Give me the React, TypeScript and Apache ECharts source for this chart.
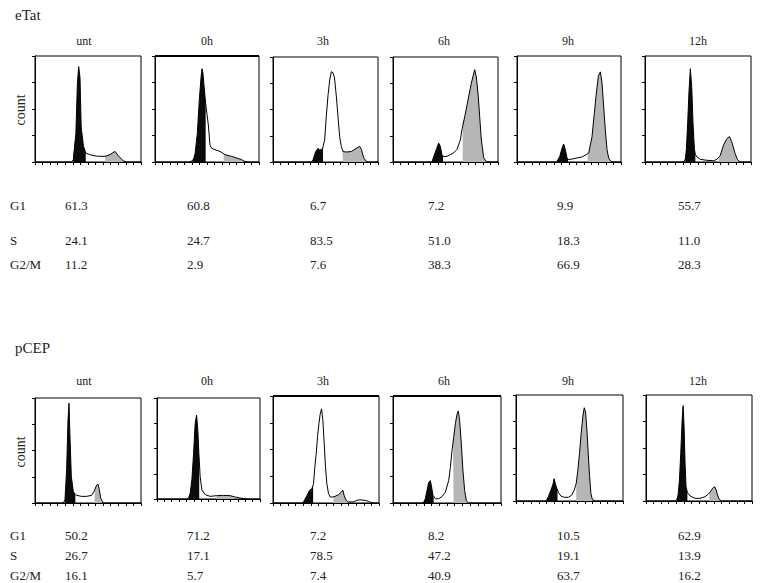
import React, { useEffect, useRef } from "react";
import * as echarts from "echarts";

// ---------- DATA ----------
const timepoints = ["unt", "0h", "3h", "6h", "9h", "12h"];
const phaseLabels = ["G1", "S", "G2/M"];

const eTatG1 = [61.3, 60.8, 6.7, 7.2, 9.9, 55.7];
const eTatS = [24.1, 24.7, 83.5, 51.0, 18.3, 11.0];
const eTatG2M = [11.2, 2.9, 7.6, 38.3, 66.9, 28.3];

const pCEPG1 = [50.2, 71.2, 7.2, 8.2, 10.5, 62.9];
const pCEPS = [26.7, 17.1, 78.5, 47.2, 19.1, 13.9];
const pCEPG2M = [16.1, 5.7, 7.4, 40.9, 63.7, 16.2];

// DNA-content histograms: [channel, relative count]
const eTatUnt = [[0,0],[48,0],[50.6,2],[54,27],[56,74],[57.7,90],[59.4,80],[61,33],[64,15],[67,8.5],[72,7],[81,5.5],[92.5,5.3],[99,7],[105.7,10],[110,6],[116.7,1],[121,0],[140,0]];
const eTat0h = [[0,0],[46,0],[50,1],[52,3],[54,8],[57,27],[59.7,59],[62,80],[63.3,88],[64.5,84],[66,72],[68.2,55],[70,45],[71.8,35],[74,16],[76.3,13],[80.8,11.5],[87.5,10],[94.2,7],[103.2,5.3],[110,3.8],[116.7,2.2],[121,0.5],[126,0],[140,0]];
const eTat3h = [[0,0],[51,0],[53.3,2],[57,10],[60,13],[62,11.5],[65.8,12],[68.9,21],[71,43],[73.3,63],[75.6,78],[77.8,86],[80,85],[82,80],[84.4,63],[86.7,43],[88.9,24],[91,15],[93.3,10],[97.8,9.5],[104.4,10],[111,13],[115.6,15],[117.8,12],[120.9,4],[124.4,0.6],[126.7,0],[140,0]];
const eTat6h = [[0,0],[52,0],[54.2,5],[57.8,12],[60.9,18],[63.1,15],[65.3,7],[67.6,5],[72,5.4],[76.4,7],[80.9,8.6],[85.3,12],[89.8,21],[92,31],[95.6,43],[100,59],[104.4,75],[108.9,88],[111.1,81],[113.4,65],[115.6,43],[117.8,21],[120.9,4],[124.4,0.5],[129.8,0],[140,0]];
const eTat9h = [[0,0],[53,0],[53.8,0.5],[57.4,5],[60.6,13],[62.8,17],[65.1,11.6],[67.3,4],[69.6,2.2],[74,2.8],[80.8,3.8],[87.5,4.7],[93.3,7],[96.5,8.5],[101,24],[104.1,46],[106.8,65],[109.5,81],[112.2,85],[114.4,75],[116.7,52],[118.9,30],[121.2,11.6],[123.4,3.8],[126.5,0.6],[130,0],[140,0]];
const eTat12h = [[0,0],[51.2,0],[53.4,3],[54.7,12.5],[56.4,37],[58.2,68],[59.9,88],[61.7,71],[63.4,37],[65.2,12.5],[66.5,7],[68.7,4.7],[73.1,2.5],[81.8,1.6],[90.6,1.2],[94.9,2.5],[99.3,6],[103.7,16],[108.1,22],[111.6,24],[114.6,19],[119,8],[122.1,2.5],[125.6,0],[140,0]];

const pCEPUnt = [[0,0],[37.4,0],[39.6,3],[41.8,32],[43.6,79],[44.9,95],[46.2,63],[48,25],[50.6,11],[53.3,8],[55,7.3],[61.6,6.3],[68.2,6.3],[74.8,7.3],[77.9,11],[81.4,17],[83.2,18],[85,12.6],[86.7,4.7],[89.4,0.6],[92.5,0],[140,0]];
const pCEP0h = [[0,0],[40.6,0],[42.9,1],[45.2,6],[47.4,19],[49.7,45],[51.9,75],[53.8,83],[55.5,68],[56.9,45],[58.7,22],[61,9],[65.5,4.3],[72.3,2.6],[81.3,3.3],[90.3,3.6],[99.4,3.3],[106.1,2],[112.9,1],[119.7,0.3],[124.2,0],[140,0]];
const pCEP3h = [[0,0],[38.2,0],[40.4,1],[42.6,4],[44.8,7],[48.3,12],[51.3,13.4],[52.7,16],[53.5,18],[55.3,34],[57.1,46],[58.8,62],[60.6,74],[62.3,83],[64.1,88],[65.8,78],[67.6,56],[69.3,34],[71.1,18],[73.3,9],[75.5,5.6],[79,5.6],[82.1,6.3],[86.5,7.8],[90,10],[92.2,12],[93.9,7.2],[96.6,2.5],[99.6,1],[106.2,1],[110.6,2.5],[115,3],[121.6,2.5],[126,1.6],[130.3,0.3],[132.5,0],[140,0]];
const pCEP6h = [[0,0],[37.6,0],[39.8,0.6],[41.9,4],[44.1,11.6],[46.2,19],[48.4,21],[50.1,14.7],[51.9,7],[54.9,4],[59.2,4],[63.5,6],[67.8,10],[72.2,21],[74.3,33],[76.5,49],[78.6,61],[80.8,74],[83,83],[84.7,86],[86.4,77],[88.6,55],[90.7,30],[92.9,11.6],[95.1,2],[98,0],[140,0]];
const pCEP9h = [[0,0],[38,0],[40.3,1],[42.4,4],[45.5,10],[48.1,15],[49.9,21],[51.6,16],[53.4,12],[55.6,8],[58.6,4.7],[63,3.5],[68.7,3.5],[73.1,5.7],[76.1,10],[78.8,16.7],[80.9,29],[83.1,45],[85.3,64],[87.5,80],[89.3,88],[91,84],[92.8,67],[94.5,45],[96.3,23],[98,7.2],[99.8,1.6],[103.7,0],[140,0]];
const pCEP12h = [[0,0],[38.5,0],[40.7,1],[42.4,5.7],[44.2,20],[45.9,45],[47.7,76],[49,90],[50.3,70],[51.6,35],[52.9,13.5],[54.7,8],[58.2,4.7],[64.8,2.5],[71.3,2.5],[77.9,4],[82.3,6.6],[85.3,9],[88,12],[90.6,13.5],[92.3,11],[94.5,5.7],[96.7,1.6],[99.8,0],[140,0]];

// gates (channel ranges) for G1 (black) and G2/M (grey)
const eTatG1Gate = [[50, 67], [51, 68.2], [52.5, 66.7], [53, 66.7], [53.8, 68.7], [53, 66.5]];
const eTatG2Gate = [[92.5, 116], [92.5, 119], [92.4, 124], [92.9, 124], [95.1, 127], [97.1, 123]];
const pCEPG1Gate = [[39, 53.3], [43, 57.4], [40, 53], [39.5, 52.7], [40, 54.3], [40.5, 54.7]];
const pCEPG2Gate = [[78.8, 87], [81, 104], [79.9, 96.6], [77.8, 95.1], [78.8, 99.3], [83.6, 96.7]];

// ---------- LAYOUT ----------
const FONT = '"Liberation Serif", "DejaVu Serif", serif';
const topGrids = [
  [35, 56, 106, 106], [155, 56, 104, 106], [273, 57, 105, 105],
  [393, 57, 105, 105], [517, 56, 104, 106], [645, 56, 106, 106],
];
const botGrids = [
  [35, 398, 106, 105], [157, 398, 103, 101], [273, 396, 106, 107],
  [393, 396, 108, 107], [516, 395, 107, 106], [646, 395, 106, 106],
];
const titleX = [84, 207, 323, 444, 568, 698];
const valueX = [65, 187, 310, 428, 557, 678];

function interp(pts: number[][], x: number) {
  for (let i = 0; i < pts.length - 1; i++) {
    const [x0, y0] = pts[i];
    const [x1, y1] = pts[i + 1];
    if (x >= x0 && x <= x1) {
      if (x1 === x0) return y0;
      return y0 + ((y1 - y0) * (x - x0)) / (x1 - x0);
    }
  }
  return 0;
}
function clip(pts: number[][], a: number, b: number) {
  const out: number[][] = [[a, interp(pts, a)]];
  pts.forEach((p) => { if (p[0] > a && p[0] < b) out.push(p); });
  out.push([b, interp(pts, b)]);
  return out;
}

export default function App() {
  const ref = useRef<HTMLDivElement>(null);
  useEffect(() => {
    if (!ref.current) return;
    const chart = echarts.init(ref.current, null, { renderer: "svg" });
    const grids: any[] = [];
    const xAxes: any[] = [];
    const yAxes: any[] = [];
    const series: any[] = [];
    const graphic: any[] = [];

    const rows = [
      { grids: topGrids, hists: [eTatUnt, eTat0h, eTat3h, eTat6h, eTat9h, eTat12h], g1: eTatG1Gate, g2: eTatG2Gate },
      { grids: botGrids, hists: [pCEPUnt, pCEP0h, pCEP3h, pCEP6h, pCEP9h, pCEP12h], g1: pCEPG1Gate, g2: pCEPG2Gate },
    ];
    let idx = 0;
    rows.forEach((row) => {
      row.hists.forEach((h, j) => {
        const [l, t, w, hh] = row.grids[j];
        grids.push({ left: l, top: t, width: w, height: hh, show: true, borderColor: "#000", borderWidth: 1, backgroundColor: "#fff" });
        xAxes.push({
          gridIndex: idx, type: "value", min: 0, max: 140, interval: 10,
          axisLine: { show: true, onZero: false, lineStyle: { color: "#000", width: 1 } },
          axisTick: { show: true, inside: false, length: 3, lineStyle: { color: "#000" } },
          axisLabel: { show: false }, splitLine: { show: false },
        });
        yAxes.push({
          gridIndex: idx, type: "value", min: 0, max: 100, interval: 25,
          axisLine: { show: true, onZero: false, lineStyle: { color: "#000", width: 1 } },
          axisTick: { show: true, inside: false, length: 3, lineStyle: { color: "#000" } },
          axisLabel: { show: false }, splitLine: { show: false },
        });
        series.push({
          type: "line", xAxisIndex: idx, yAxisIndex: idx, data: clip(h, row.g2[j][0], row.g2[j][1]),
          symbol: "none", lineStyle: { width: 0 }, areaStyle: { color: "#b6b6b6", opacity: 1 }, silent: true, z: 2,
        });
        series.push({
          type: "line", xAxisIndex: idx, yAxisIndex: idx, data: clip(h, row.g1[j][0], row.g1[j][1]),
          symbol: "none", lineStyle: { width: 0 }, areaStyle: { color: "#0a0a0a", opacity: 1 }, silent: true, z: 2,
        });
        series.push({
          type: "line", xAxisIndex: idx, yAxisIndex: idx, data: h,
          symbol: "none", lineStyle: { color: "#000", width: 1 }, silent: true, z: 3,
        });
        idx++;
      });
    });

    // thicker frame edges seen in scans
    graphic.push({ type: "rect", shape: { x: 155, y: 55, width: 104, height: 2 }, style: { fill: "#000" } });
    graphic.push({ type: "rect", shape: { x: 273, y: 395, width: 106, height: 2 }, style: { fill: "#000" } });
    graphic.push({ type: "rect", shape: { x: 393, y: 395, width: 108, height: 2 }, style: { fill: "#000" } });

    const txt = (text: string, x: number, y: number, size: number, align = "left", extra: any = {}) => ({
      type: "text", x, y, ...extra,
      style: { text, font: `${size}px ${FONT}`, fill: "#222", align, verticalAlign: "middle" },
    });

    graphic.push(txt("eTat", 15, 15, 15));
    graphic.push(txt("pCEP", 15, 348, 15));
    graphic.push(txt("count", 20, 110, 14, "center", { rotation: Math.PI / 2 }));
    graphic.push(txt("count", 20, 452, 14, "center", { rotation: Math.PI / 2 }));
    timepoints.forEach((tp, j) => {
      graphic.push(txt(tp, titleX[j], 41, 12, "center"));
      graphic.push(txt(tp, titleX[j], 381, 12, "center"));
    });

    const tables = [
      { vals: [eTatG1, eTatS, eTatG2M], ys: [205, 240, 264] },
      { vals: [pCEPG1, pCEPS, pCEPG2M], ys: [535, 555, 575] },
    ];
    tables.forEach((tb) => {
      phaseLabels.forEach((lab, r) => {
        graphic.push(txt(lab, 10, tb.ys[r], 13));
        tb.vals[r].forEach((v, c) => {
          graphic.push(txt(v.toFixed(1), valueX[c], tb.ys[r], 13));
        });
      });
    });

    chart.setOption({
      animation: false,
      backgroundColor: "#fff",
      grid: grids,
      xAxis: xAxes,
      yAxis: yAxes,
      series,
      graphic,
    });
    return () => chart.dispose();
  }, []);
  return <div ref={ref} style={{ position: "fixed", left: 0, top: 0, width: 762, height: 583 }} />;
}
